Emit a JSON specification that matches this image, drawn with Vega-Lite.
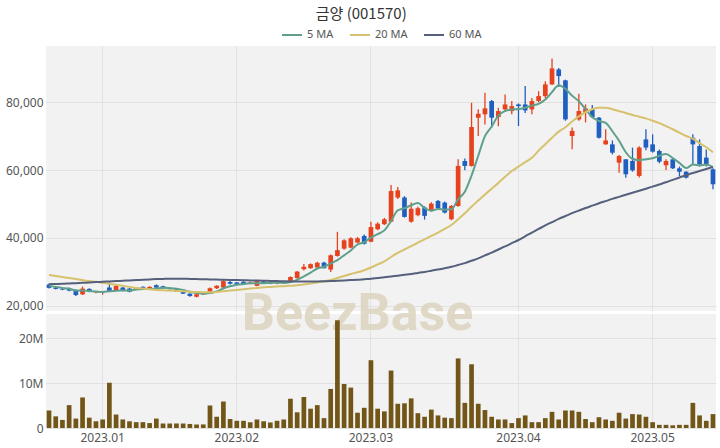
{
 "$schema": "https://vega.github.io/schema/vega-lite/v6.json",
 "padding": {"left": 5, "right": 5, "top": 7, "bottom": 5},
 "background": "white",
 "bounds": "flush",
 "title": {"text": "금양 (001570)", "fontSize": 15, "font": "Noto Sans CJK KR", "fontWeight": "normal", "color": "#333333", "anchor": "middle", "offset": 2},
 "datasets": {"stock": [
{"date":"2022-12-20","open":26300,"high":26600,"low":25100,"close":25300,"volume":3900000,"ma5":25900,"ma20":29100,"ma60":26400},
{"date":"2022-12-21","open":25400,"high":25800,"low":24800,"close":25000,"volume":2600000,"ma5":25600,"ma20":28800,"ma60":26450},
{"date":"2022-12-22","open":25000,"high":25300,"low":24600,"close":24800,"volume":1800000,"ma5":25300,"ma20":28500,"ma60":26500},
{"date":"2022-12-23","open":25100,"high":25400,"low":24300,"close":24500,"volume":5100000,"ma5":25020,"ma20":28200,"ma60":26600},
{"date":"2022-12-26","open":24600,"high":24800,"low":22900,"close":23200,"volume":2100000,"ma5":24560,"ma20":27900,"ma60":26700},
{"date":"2022-12-27","open":23400,"high":25700,"low":23200,"close":25100,"volume":6800000,"ma5":24520,"ma20":27600,"ma60":26800},
{"date":"2022-12-28","open":25000,"high":25200,"low":24000,"close":24200,"volume":2300000,"ma5":24360,"ma20":27300,"ma60":26900},
{"date":"2022-12-29","open":24000,"high":24400,"low":23700,"close":24100,"volume":1500000,"ma5":24220,"ma20":27100,"ma60":27000},
{"date":"2023-01-02","open":23800,"high":24200,"low":23300,"close":23900,"volume":1900000,"ma5":24100,"ma20":26800,"ma60":27100},
{"date":"2023-01-03","open":25400,"high":26900,"low":24200,"close":24300,"volume":10100000,"ma5":24320,"ma20":26500,"ma60":27200},
{"date":"2023-01-04","open":24400,"high":26200,"low":24300,"close":25900,"volume":3000000,"ma5":24480,"ma20":26200,"ma60":27300},
{"date":"2023-01-05","open":25400,"high":25600,"low":24300,"close":24400,"volume":1900000,"ma5":24520,"ma20":25900,"ma60":27400},
{"date":"2023-01-06","open":25100,"high":25300,"low":24000,"close":24200,"volume":1500000,"ma5":24540,"ma20":25600,"ma60":27500},
{"date":"2023-01-09","open":24900,"high":25600,"low":24700,"close":25400,"volume":1300000,"ma5":24840,"ma20":25300,"ma60":27600},
{"date":"2023-01-10","open":25600,"high":25800,"low":25000,"close":25100,"volume":1300000,"ma5":25000,"ma20":25100,"ma60":27700},
{"date":"2023-01-11","open":25200,"high":25800,"low":25100,"close":25600,"volume":1100000,"ma5":24940,"ma20":24900,"ma60":27800},
{"date":"2023-01-12","open":26100,"high":26300,"low":25300,"close":25400,"volume":2100000,"ma5":25140,"ma20":24700,"ma60":27900},
{"date":"2023-01-13","open":25800,"high":25900,"low":25100,"close":25200,"volume":1000000,"ma5":25340,"ma20":24600,"ma60":27950},
{"date":"2023-01-16","open":25300,"high":25400,"low":24800,"close":24900,"volume":1000000,"ma5":25240,"ma20":24500,"ma60":28000},
{"date":"2023-01-17","open":24900,"high":25000,"low":24100,"close":24200,"volume":1000000,"ma5":25060,"ma20":24400,"ma60":28000},
{"date":"2023-01-18","open":24300,"high":24400,"low":23500,"close":23600,"volume":1000000,"ma5":24660,"ma20":24300,"ma60":28000},
{"date":"2023-01-19","open":23600,"high":23700,"low":22700,"close":22900,"volume":900000,"ma5":24160,"ma20":24200,"ma60":27950},
{"date":"2023-01-20","open":22700,"high":23600,"low":22500,"close":23400,"volume":800000,"ma5":23800,"ma20":24100,"ma60":27900},
{"date":"2023-01-25","open":23400,"high":24000,"low":23200,"close":23900,"volume":800000,"ma5":23600,"ma20":24000,"ma60":27850},
{"date":"2023-01-26","open":23600,"high":25400,"low":23500,"close":25200,"volume":5000000,"ma5":23800,"ma20":24000,"ma60":27800},
{"date":"2023-01-27","open":25200,"high":26100,"low":25000,"close":25900,"volume":2500000,"ma5":24260,"ma20":24100,"ma60":27750},
{"date":"2023-01-30","open":25400,"high":27600,"low":25300,"close":27300,"volume":5900000,"ma5":25140,"ma20":24300,"ma60":27700},
{"date":"2023-01-31","open":27000,"high":27300,"low":26300,"close":26500,"volume":2000000,"ma5":25760,"ma20":24500,"ma60":27650},
{"date":"2023-02-01","open":26900,"high":27000,"low":26100,"close":26200,"volume":1600000,"ma5":26220,"ma20":24700,"ma60":27600},
{"date":"2023-02-02","open":27100,"high":27200,"low":26300,"close":26400,"volume":1600000,"ma5":26460,"ma20":24900,"ma60":27550},
{"date":"2023-02-03","open":26500,"high":27100,"low":26400,"close":26900,"volume":1300000,"ma5":26660,"ma20":25100,"ma60":27500},
{"date":"2023-02-06","open":25900,"high":27500,"low":25800,"close":27300,"volume":1900000,"ma5":26660,"ma20":25300,"ma60":27450},
{"date":"2023-02-07","open":27200,"high":27300,"low":26600,"close":26700,"volume":1500000,"ma5":26700,"ma20":25500,"ma60":27400},
{"date":"2023-02-08","open":26900,"high":27000,"low":26400,"close":26500,"volume":1200000,"ma5":26760,"ma20":25600,"ma60":27350},
{"date":"2023-02-09","open":26600,"high":26900,"low":26400,"close":26700,"volume":1600000,"ma5":26820,"ma20":25700,"ma60":27300},
{"date":"2023-02-10","open":26700,"high":26800,"low":26500,"close":26600,"volume":1900000,"ma5":26760,"ma20":25800,"ma60":27250},
{"date":"2023-02-13","open":27100,"high":28700,"low":27000,"close":28500,"volume":6500000,"ma5":27000,"ma20":25900,"ma60":27200},
{"date":"2023-02-14","open":28200,"high":30300,"low":28000,"close":30100,"volume":3500000,"ma5":27680,"ma20":26100,"ma60":27200},
{"date":"2023-02-15","open":30800,"high":32300,"low":30400,"close":31500,"volume":6900000,"ma5":28680,"ma20":26300,"ma60":27200},
{"date":"2023-02-16","open":31100,"high":32500,"low":30900,"close":32300,"volume":4300000,"ma5":29800,"ma20":26600,"ma60":27200},
{"date":"2023-02-17","open":31300,"high":33000,"low":31200,"close":32700,"volume":5100000,"ma5":31020,"ma20":26900,"ma60":27200},
{"date":"2023-02-20","open":32750,"high":33000,"low":31000,"close":31100,"volume":2200000,"ma5":31540,"ma20":27200,"ma60":27250},
{"date":"2023-02-21","open":30700,"high":35100,"low":30000,"close":34900,"volume":8700000,"ma5":32500,"ma20":27600,"ma60":27300},
{"date":"2023-02-22","open":34700,"high":41800,"low":34500,"close":36400,"volume":24000000,"ma5":33480,"ma20":28200,"ma60":27400},
{"date":"2023-02-23","open":36850,"high":39600,"low":36500,"close":39300,"volume":9800000,"ma5":34880,"ma20":28800,"ma60":27500},
{"date":"2023-02-24","open":37150,"high":40200,"low":37000,"close":39900,"volume":9000000,"ma5":36320,"ma20":29400,"ma60":27600},
{"date":"2023-02-27","open":38650,"high":40300,"low":38400,"close":39900,"volume":3400000,"ma5":38080,"ma20":29900,"ma60":27700},
{"date":"2023-02-28","open":40600,"high":41000,"low":38100,"close":38300,"volume":4500000,"ma5":38760,"ma20":30500,"ma60":27850},
{"date":"2023-03-02","open":38900,"high":44800,"low":38700,"close":43200,"volume":15100000,"ma5":40120,"ma20":31300,"ma60":28000},
{"date":"2023-03-03","open":42550,"high":44600,"low":42300,"close":44200,"volume":4300000,"ma5":41100,"ma20":32200,"ma60":28200},
{"date":"2023-03-06","open":44050,"high":45900,"low":43800,"close":45500,"volume":3700000,"ma5":42220,"ma20":33100,"ma60":28400},
{"date":"2023-03-07","open":44800,"high":55600,"low":44600,"close":53800,"volume":12800000,"ma5":45000,"ma20":34400,"ma60":28650},
{"date":"2023-03-08","open":51900,"high":55000,"low":51500,"close":54000,"volume":5400000,"ma5":48140,"ma20":35600,"ma60":28900},
{"date":"2023-03-09","open":51900,"high":52300,"low":46000,"close":46200,"volume":5500000,"ma5":48740,"ma20":36600,"ma60":29150},
{"date":"2023-03-10","open":44800,"high":50400,"low":44500,"close":48600,"volume":6600000,"ma5":49620,"ma20":37600,"ma60":29400},
{"date":"2023-03-13","open":46700,"high":49200,"low":46400,"close":48750,"volume":3300000,"ma5":50270,"ma20":38600,"ma60":29700},
{"date":"2023-03-14","open":48950,"high":49300,"low":45400,"close":46500,"volume":2500000,"ma5":48810,"ma20":39600,"ma60":30000},
{"date":"2023-03-15","open":48000,"high":50500,"low":47800,"close":50100,"volume":4100000,"ma5":48030,"ma20":40600,"ma60":30350},
{"date":"2023-03-16","open":50900,"high":51200,"low":48500,"close":48750,"volume":2800000,"ma5":48540,"ma20":41600,"ma60":30700},
{"date":"2023-03-17","open":50400,"high":50700,"low":47200,"close":47470,"volume":2300000,"ma5":48310,"ma20":42700,"ma60":31100},
{"date":"2023-03-20","open":45500,"high":49700,"low":45200,"close":49400,"volume":2200000,"ma5":48440,"ma20":43800,"ma60":31500},
{"date":"2023-03-21","open":49400,"high":63150,"low":49200,"close":61200,"volume":15500000,"ma5":51380,"ma20":45500,"ma60":32050},
{"date":"2023-03-22","open":62650,"high":63400,"low":59900,"close":61200,"volume":5600000,"ma5":53600,"ma20":47300,"ma60":32600},
{"date":"2023-03-23","open":61200,"high":79800,"low":61000,"close":72650,"volume":14200000,"ma5":58380,"ma20":49200,"ma60":33300},
{"date":"2023-03-24","open":75400,"high":77850,"low":70000,"close":76550,"volume":5400000,"ma5":64200,"ma20":51000,"ma60":34000},
{"date":"2023-03-27","open":76400,"high":82750,"low":73400,"close":78150,"volume":4000000,"ma5":69950,"ma20":52800,"ma60":34850},
{"date":"2023-03-28","open":80300,"high":80600,"low":72450,"close":75400,"volume":2500000,"ma5":72790,"ma20":54500,"ma60":35700},
{"date":"2023-03-29","open":75600,"high":78300,"low":72900,"close":77350,"volume":1900000,"ma5":76020,"ma20":56200,"ma60":36600},
{"date":"2023-03-30","open":77850,"high":82200,"low":77300,"close":79300,"volume":1900000,"ma5":77350,"ma20":58000,"ma60":37500},
{"date":"2023-03-31","open":77350,"high":80300,"low":76400,"close":78800,"volume":1100000,"ma5":77800,"ma20":59700,"ma60":38450},
{"date":"2023-04-03","open":79300,"high":79600,"low":72940,"close":78800,"volume":2200000,"ma5":77930,"ma20":61000,"ma60":39400},
{"date":"2023-04-04","open":79300,"high":84700,"low":76800,"close":77550,"volume":2800000,"ma5":78360,"ma20":62300,"ma60":40500},
{"date":"2023-04-05","open":77850,"high":81200,"low":76400,"close":80300,"volume":1300000,"ma5":78950,"ma20":63600,"ma60":41600},
{"date":"2023-04-06","open":80300,"high":83200,"low":79900,"close":81750,"volume":1300000,"ma5":79440,"ma20":65700,"ma60":42650},
{"date":"2023-04-07","open":81750,"high":86100,"low":81200,"close":85200,"volume":2200000,"ma5":80720,"ma20":67600,"ma60":43700},
{"date":"2023-04-10","open":85200,"high":92850,"low":85000,"close":89900,"volume":3600000,"ma5":82940,"ma20":69500,"ma60":44650},
{"date":"2023-04-11","open":89600,"high":90000,"low":84400,"close":87650,"volume":1900000,"ma5":84960,"ma20":71300,"ma60":45600},
{"date":"2023-04-12","open":86400,"high":86600,"low":74500,"close":74900,"volume":3900000,"ma5":83880,"ma20":72600,"ma60":46450},
{"date":"2023-04-13","open":70000,"high":72500,"low":66100,"close":71500,"volume":3900000,"ma5":81830,"ma20":74300,"ma60":47300},
{"date":"2023-04-14","open":74900,"high":82450,"low":74500,"close":77350,"volume":3600000,"ma5":80260,"ma20":75800,"ma60":48050},
{"date":"2023-04-17","open":76850,"high":79300,"low":74000,"close":78150,"volume":2000000,"ma5":77910,"ma20":77000,"ma60":48800},
{"date":"2023-04-18","open":77850,"high":79100,"low":75300,"close":75600,"volume":1300000,"ma5":75500,"ma20":77900,"ma60":49500},
{"date":"2023-04-19","open":75400,"high":75600,"low":69300,"close":69500,"volume":2400000,"ma5":74420,"ma20":78300,"ma60":50200},
{"date":"2023-04-20","open":67550,"high":72000,"low":67400,"close":68700,"volume":1900000,"ma5":73860,"ma20":78300,"ma60":50850},
{"date":"2023-04-21","open":67550,"high":68700,"low":64600,"close":65100,"volume":1600000,"ma5":71410,"ma20":77900,"ma60":51500},
{"date":"2023-04-24","open":62150,"high":64400,"low":59200,"close":64100,"volume":3400000,"ma5":68600,"ma20":77300,"ma60":52100},
{"date":"2023-04-25","open":63150,"high":63200,"low":57750,"close":58750,"volume":2100000,"ma5":65230,"ma20":76800,"ma60":52700},
{"date":"2023-04-26","open":62650,"high":66600,"low":59500,"close":59900,"volume":3100000,"ma5":63310,"ma20":76200,"ma60":53300},
{"date":"2023-04-27","open":58250,"high":67000,"low":57800,"close":66600,"volume":3000000,"ma5":62890,"ma20":75700,"ma60":53900},
{"date":"2023-04-28","open":69000,"high":72000,"low":65800,"close":66600,"volume":2500000,"ma5":63190,"ma20":75200,"ma60":54500},
{"date":"2023-05-02","open":67550,"high":70500,"low":65100,"close":65400,"volume":1300000,"ma5":63450,"ma20":74500,"ma60":55100},
{"date":"2023-05-03","open":65600,"high":66000,"low":62000,"close":62450,"volume":700000,"ma5":64190,"ma20":73800,"ma60":55750},
{"date":"2023-05-04","open":61400,"high":63200,"low":60000,"close":62650,"volume":700000,"ma5":64740,"ma20":72900,"ma60":56400},
{"date":"2023-05-08","open":63150,"high":63200,"low":60300,"close":60500,"volume":600000,"ma5":63520,"ma20":72000,"ma60":57100},
{"date":"2023-05-09","open":60500,"high":61000,"low":58200,"close":59500,"volume":700000,"ma5":62100,"ma20":71000,"ma60":57800},
{"date":"2023-05-10","open":59500,"high":59600,"low":57500,"close":57750,"volume":700000,"ma5":60570,"ma20":70000,"ma60":58450},
{"date":"2023-05-11","open":69500,"high":70500,"low":61700,"close":67550,"volume":5600000,"ma5":61590,"ma20":69200,"ma60":59100},
{"date":"2023-05-12","open":67050,"high":69000,"low":61000,"close":61700,"volume":2800000,"ma5":61400,"ma20":67900,"ma60":59700},
{"date":"2023-05-15","open":63650,"high":66000,"low":61000,"close":61500,"volume":1600000,"ma5":61600,"ma20":66700,"ma60":60300},
{"date":"2023-05-16","open":60200,"high":60500,"low":54300,"close":55800,"volume":3100000,"ma5":60860,"ma20":65200,"ma60":60900}
 ]},
 "data": {"name": "stock"},
 "spacing": 3,
 "vconcat": [
  {
   "width": 670,
   "height": 265,
   "encoding": {
    "x": {"field": "date", "type": "ordinal", "scale": {"type": "band", "paddingInner": 0.3, "paddingOuter": 0.1},
          "axis": {"title": null, "labels": false, "ticks": false, "domain": false, "grid": true, "bandPosition": 0.5,
                   "values": ["2023-01-02", "2023-02-01", "2023-03-02", "2023-04-03", "2023-05-02"]}}
   },
   "layer": [
    {
     "mark": {"type": "rule", "strokeWidth": 1.3},
     "encoding": {
      "y": {"field": "low", "type": "quantitative", "scale": {"domain": [18500, 96500], "zero": false, "nice": false},
            "axis": {"title": null, "values": [20000, 40000, 60000, 80000], "format": ",.0f", "ticks": false, "domain": false, "labelPadding": 3, "grid": true}},
      "y2": {"field": "high"},
      "color": {"condition": {"test": "datum.close > datum.open", "value": "#e5421d"}, "value": "#1f5fbf"}
     }
    },
    {
     "mark": {"type": "bar"},
     "encoding": {
      "y": {"field": "open", "type": "quantitative"},
      "y2": {"field": "close"},
      "color": {"condition": {"test": "datum.close > datum.open", "value": "#e5421d"}, "value": "#1f5fbf"}
     }
    },
    {
     "transform": [{"fold": ["ma5", "ma20", "ma60"], "as": ["series", "value"]}],
     "mark": {"type": "line", "strokeWidth": 2, "interpolate": "monotone"},
     "encoding": {
      "y": {"field": "value", "type": "quantitative"},
      "color": {"field": "series", "type": "nominal",
                "scale": {"domain": ["ma5", "ma20", "ma60"], "range": ["#5fa08c", "#d6c26c", "#56607d"]},
                "legend": {"title": null, "orient": "top", "direction": "horizontal", "symbolType": "stroke", "symbolSize": 400, "symbolStrokeWidth": 2,
                           "labelExpr": "datum.value == 'ma5' ? '5 MA' : datum.value == 'ma20' ? '20 MA' : '60 MA'",
                           "labelFontSize": 11, "labelColor": "#555555", "offset": 6, "columnPadding": 12}}
     }
    }
   ]
  },
  {
   "width": 670,
   "height": 114,
   "encoding": {
    "x": {"field": "date", "type": "ordinal", "scale": {"type": "band", "paddingInner": 0.3, "paddingOuter": 0.1},
          "axis": {"title": null, "ticks": false, "domain": false, "grid": true, "bandPosition": 0.5, "labelAngle": 0, "labelPadding": 4,
                   "values": ["2023-01-02", "2023-02-01", "2023-03-02", "2023-04-03", "2023-05-02"],
                   "labelExpr": "slice(datum.value, 0, 4) + '.' + slice(datum.value, 5, 7)"}}
   },
   "layer": [
    {
     "data": {"values": [{"label": "BeezBase"}]},
     "mark": {"type": "text", "font": "Roboto", "fontWeight": "bold", "fontSize": 52, "color": "#ddd6c2", "opacity": 0.9, "baseline": "middle", "align": "center"},
     "encoding": {
      "x": {"datum": "2023-02-27", "type": "ordinal"},
      "y": {"datum": 25400000, "type": "quantitative"},
      "text": {"field": "label"}
     }
    },
    {
     "mark": {"type": "bar", "color": "#715617"},
     "encoding": {
      "y": {"field": "volume", "type": "quantitative", "scale": {"domain": [0, 25400000], "nice": false},
            "axis": {"title": null, "values": [0, 10000000, 20000000], "labelExpr": "datum.value == 0 ? '0' : format(datum.value / 1000000, 'd') + 'M'", "ticks": false, "domain": false, "labelPadding": 3, "grid": true}}
     }
    }
   ]
  }
 ],
 "config": {
  "font": "Noto Sans",
  "view": {"fill": "#f2f2f2", "stroke": null},
  "axis": {"gridColor": "#e1e1e1", "labelColor": "#555555", "labelFontSize": 12, "labelFont": "Noto Sans"},
  "legend": {"labelFont": "Noto Sans", "layout": {"top": {"anchor": "middle"}}}
 }
}
